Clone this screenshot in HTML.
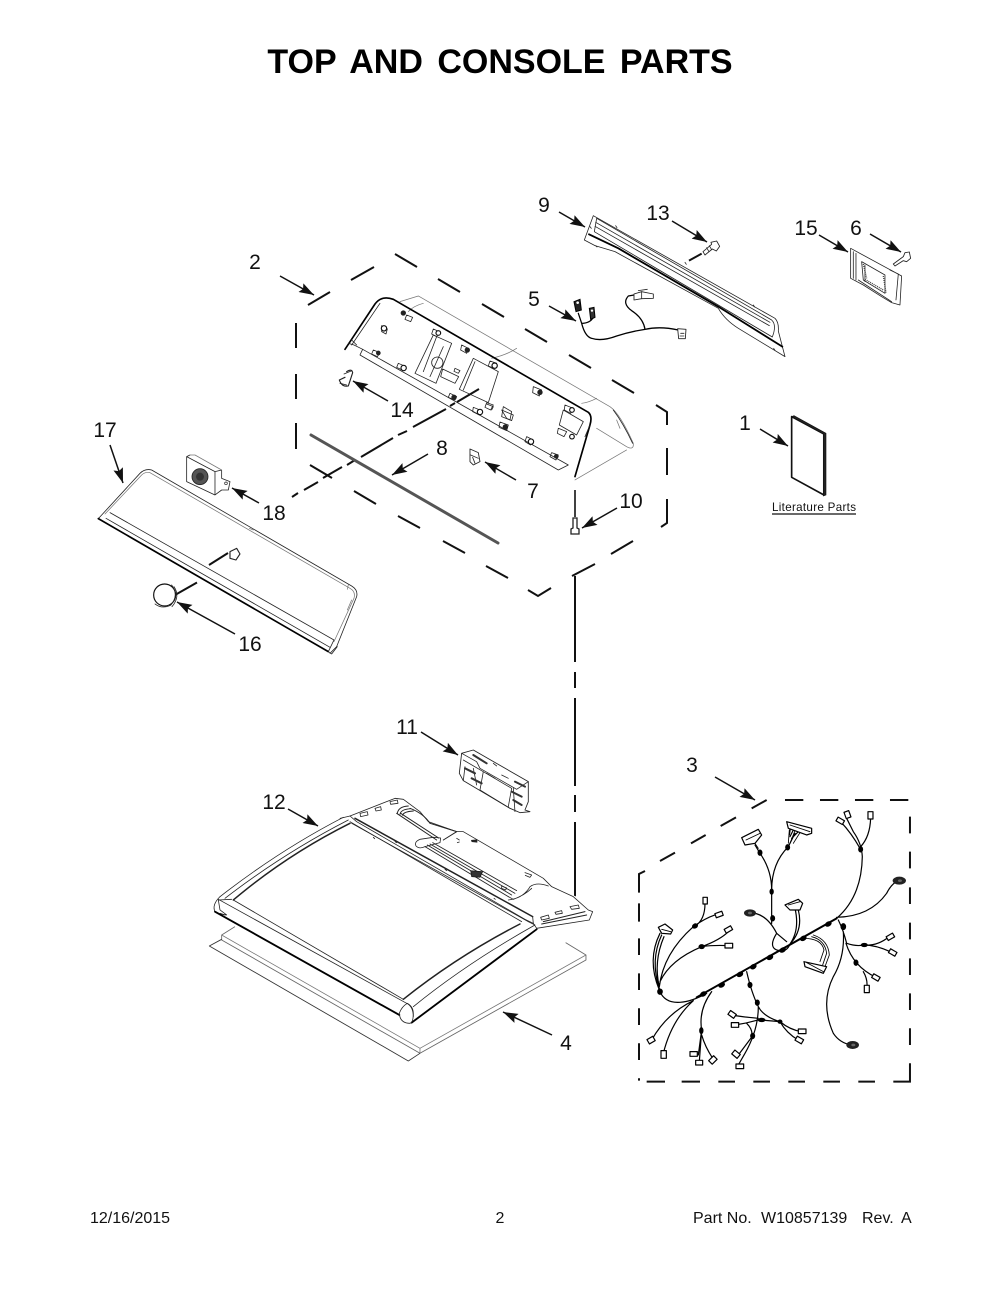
<!DOCTYPE html>
<html><head><meta charset="utf-8"><title>Top and Console Parts</title>
<style>
html,body{margin:0;padding:0;background:#fff}
svg{display:block}
text{font-family:"Liberation Sans",Arial,sans-serif;fill:#111}
.n{font-size:21px;text-anchor:middle}
.f{font-size:16px}
.d{stroke:#111;stroke-width:2;fill:none}
.a{stroke:#111;stroke-width:1.5;fill:none;marker-end:url(#h)}
.t{fill:none;stroke:#222;stroke-width:2.4;stroke-linejoin:round;stroke-linecap:round}
.m{fill:none;stroke:#222;stroke-width:4;stroke-linejoin:round;stroke-linecap:round}
.b{fill:none;stroke:#000;stroke-width:6.5;stroke-linejoin:round;stroke-linecap:round}
.g{fill:none;stroke:#777;stroke-width:2.2;stroke-linejoin:round;stroke-linecap:round}
.w{fill:#fff;stroke:#222;stroke-width:2.6;stroke-linejoin:round}
.h{fill:none;stroke:#000;stroke-width:3.6;stroke-linecap:round;stroke-linejoin:round}
.k{fill:#000;stroke:#000;stroke-width:3}
</style></head><body>
<svg xmlns="http://www.w3.org/2000/svg" width="1000" height="1294" viewBox="0 0 1000 1294">
<defs>
<marker id="h" markerUnits="userSpaceOnUse" markerWidth="16" markerHeight="10" refX="15" refY="5" orient="auto"><path d="M0,0 L15,5 L0,10 L2.5,5 Z" fill="#111"/></marker>
</defs>
<rect width="1000" height="1294" fill="#fff"/>

<text x="500" y="73" text-anchor="middle" style="font-weight:bold;font-size:34px;word-spacing:5px;fill:#000">TOP AND CONSOLE PARTS</text>

<!-- Assembly 2 dashed outline -->
<path class="d" d="M308,305L330,292M351,280L374,267M395,254L417,267M438,279L460,292M482,304L504,317M525,329L547,342M569,355L591,368M612,380L634,393M656,405L667,412L667,425M667,448L667,475M667,499L667,523L661,527M633,541L611,554M595,564L572,576M551,588L538,596L528,590M508,578L486,566M465,553L443,541M420,528L398,516M376,504L354,491M332,478L310,465M296,323L296,348M296,374L296,399M296,423L296,449"/>

<!-- Vertical dash connector -->
<path class="d" d="M575,576L575,662M575,672L575,688M575,698L575,786M575,795L575,812M575,822L575,897"/>
<!-- Dash connector 18 -->
<path class="d" d="M292,497L298,493M304,490L318,482M323,478L342,467M347,465L355,460M361,457L393,438M398,435L407,431M413,427L446,409M450,406L455,403"/>
<path d="M457,402L479,389" stroke="#111" stroke-width="2"/>
<path d="M175,595L197,582.500M209,565L228,553" stroke="#111" stroke-width="2"/>

<!-- Console -->
<g transform="translate(280,180) scale(.3333)">
<path class="g" d="M360,365L415,348L990,680Q1020,700 1060,790Q1062,812 1040,800L950,745M885,900L1040,810M430,370Q400,378 385,395M710,505Q680,525 635,535M950,655Q925,668 905,670M1010,720L1020,745"/>
<path class="t" d="M215,495L300,370M1000,690Q1030,730 1058,790"/>
<path class="b" d="M195,508L285,372Q305,345 340,358L925,697Q938,708 930,735L885,890" style="stroke-width:5"/>
<path class="t" d="M205,490L222,495L248,508L865,855L835,870L240,525L248,508M215,480L230,495M930,735L915,770"/>
<path class="t" d="M460,465L515,490L468,610L405,580ZM470,470L430,575M490,500L450,590"/>
<circle class="t" cx="472" cy="548" r="17"/>
<path class="t" d="M580,535L655,575L625,668L538,628ZM585,545L550,630"/>
<path class="t" d="M488,567L536,590L525,610L482,590ZM525,565L540,572L535,580L522,574Z"/>
<path class="t" d="M850,690L910,725L890,765L838,735ZM670,680L695,695L690,720L665,710Z"/>
<path class="t" d="M380,405L398,412L392,425L375,418ZM305,437L322,447L318,462L305,455ZM460,447L478,455L470,470L455,462ZM545,495L565,505L560,520L542,510ZM630,543L650,550L643,565L625,558ZM760,620L785,630L778,648L758,638ZM855,675L880,685L872,700L853,690ZM835,745L860,755L852,770L832,760ZM620,668L640,675L632,690L615,682ZM510,640L530,650L525,660L505,652ZM580,682L605,692L598,705L578,695ZM660,726L685,735L680,752L657,742ZM740,770L760,780L752,795L735,785ZM815,818L835,825L828,840L810,830ZM280,510L300,518L292,530L275,522ZM355,550L378,560L370,572L350,562Z"/>
<g fill="#222"><circle cx="370" cy="399" r="8"/><circle cx="562" cy="510" r="8"/><circle cx="780" cy="637" r="8"/><circle cx="676" cy="741" r="8"/><circle cx="522" cy="652" r="8"/><circle cx="829" cy="829" r="7"/><circle cx="295" cy="519" r="7"/></g>
<g fill="#fff" stroke="#111" stroke-width="3.5"><circle cx="312" cy="445" r="8"/><circle cx="475" cy="459" r="7"/><circle cx="644" cy="557" r="8"/><circle cx="876" cy="690" r="7"/><circle cx="876" cy="770" r="7"/><circle cx="371" cy="564" r="8"/><circle cx="600" cy="696" r="8"/><circle cx="753" cy="785" r="8"/></g>
<path class="t" d="M665,690L700,705L695,722L680,715ZM620,672L640,680L635,690"/>
<!-- 14 clip -->
<path class="m" d="M200,575Q215,565 218,578L205,618Q185,622 178,600L195,592" style="stroke-width:3.4"/>
<path class="t" d="M192,582L216,572M180,610L200,615"/>
<!-- 7 clip -->
<path class="w" d="M570,807L595,818L600,845L580,855L570,845Z"/><path class="t" d="M572,825L595,835M578,832L585,850"/>
</g>

<!-- Rod 8 -->
<path d="M311,435L498,543" stroke="#555" stroke-width="3" stroke-linecap="round"/>

<!-- Screw 10 -->
<path d="M575,490L575,517" stroke="#111" stroke-width="1.6"/>
<path d="M573,518L577,518L577,528L579,529L579,534L571,534L571,529L573,528Z" fill="#fff" stroke="#222" stroke-width="1.3"/>

<!-- Part 9, 13 -->
<g transform="translate(575,205) scale(.3333)">
<path class="t" d="M55,32L600,340Q612,352 610,378L630,455L490,370Q450,345 430,310L120,140L60,122L28,105Z"/>
<path class="t" d="M65,40L590,345Q606,360 592,396L58,80L65,40ZM62,52L585,352M60,64L583,362M122,62L126,68M330,172L334,178M535,300L539,306M596,430L600,436M62,122L66,126M45,65L49,70"/>
<path class="b" d="M42,88L130,130L430,305L622,425" style="stroke-width:5.500"/>
<path d="M342,167L380,146" stroke="#111" stroke-width="6"/>
<path class="w" d="M384,140L410,118L408,112L425,108L434,124L424,138L412,132L390,150Z"/>
<path class="t" d="M395,128L402,140M403,122L410,134"/>
</g>

<!-- Part 15, 6, 1 -->
<g transform="translate(570,190) scale(.3333)">
<path class="t" d="M842,175L995,258L990,345L965,338L935,320L880,285L842,265ZM850,185L850,265M858,190L858,270M875,215L945,255L945,310L880,270ZM885,225L885,275M960,240L985,252L978,330M865,270L965,335"/>
<path d="M880,222L890,265M885,268L940,300M940,258L948,308" stroke="#444" stroke-width="4" stroke-dasharray="3 3" fill="none"/>
<path class="w" d="M970,222L1000,200L1005,188L1018,186L1022,205L1010,215L1000,212L975,228Z"/>
<path d="M665,680L665,862L762,915L762,732Z" fill="#fff" stroke="#111" stroke-width="5" stroke-linejoin="round"/>
<path d="M672,677L768,730L768,915L760,918L760,732L665,680Z" fill="#222" stroke="#111" stroke-width="2" stroke-linejoin="round"/>
</g>

<!-- Part 5 -->
<g transform="translate(560,280) scale(.3333)">
<path class="h" d="M65,130Q75,170 95,175Q125,185 170,168Q210,155 255,148Q300,138 355,150M255,148Q250,115 215,92Q185,70 205,48L222,45M65,130L55,100M65,130Q90,130 100,112" style="stroke-width:3.8"/>
<path class="w" d="M222,42L245,35L280,42L280,55L245,56L222,60Z"/>
<path class="t" d="M245,35L245,56M235,32L262,28"/>
<path d="M42,65L60,58L64,90L48,95Z" fill="#222" stroke="#000" stroke-width="3"/>
<path d="M88,85L102,82L105,112L92,118Z" fill="#333" stroke="#000" stroke-width="3"/>
<circle cx="53" cy="68" r="4" fill="#fff"/><circle cx="96" cy="92" r="3.500" fill="#fff"/>
<path class="w" d="M353,146L378,148L376,176L356,176Z"/>
<path class="t" d="M362,160L372,160M360,168L372,168"/>
</g>

<text x="772" y="511" style="font-size:11.6px" textLength="84">Literature Parts</text>
<path d="M772,514L856,514" stroke="#111" stroke-width="1.2"/>

<!-- Panel 17, 18, 16 -->
<g transform="translate(80,420) scale(.3333)">
<path class="t" d="M55,296L180,160Q195,145 215,150L815,498Q835,510 830,530L770,680L750,700"/>
<path class="g" d="M75,282L185,165Q195,155 210,158L810,505Q828,515 822,535L762,665M508,325L520,330M805,495L802,508M815,540L802,570"/>
<path class="b" d="M55,296L745,695" style="stroke-width:5"/>
<path class="t" d="M90,278L762,660M78,295L750,682M762,660L745,695L755,702L772,680"/>
<path class="t" d="M320,110L405,155L425,150L425,175L450,185L445,210L425,210L405,225L320,185ZM330,105L320,110M405,155L405,225"/>
<path class="g" d="M425,150L345,105L330,105"/>
<circle cx="360" cy="170" r="24" fill="#555" stroke="#222" stroke-width="2.5"/><circle cx="360" cy="170" r="12" fill="#333"/>
<circle cx="438" cy="190" r="4" fill="none" stroke="#222" stroke-width="2"/>
<path class="t" d="M450,395L470,385L480,402L468,420L450,415Z" style="stroke-width:3.4"/>
<circle cx="254" cy="525" r="33" fill="#fff" stroke="#111" stroke-width="3.5"/>
<path class="t" d="M275,495Q298,525 272,556Q245,568 225,552M282,500Q302,530 276,560"/>
</g>

<!-- Module 11, board 12, gasket 4 -->
<g transform="translate(200,740) scale(.3333)">
<path class="w" d="M785,40L820,30L985,125L985,185L975,210L990,215L960,218L930,205L790,122L778,100Z"/>
<path class="t" d="M785,40L830,65L840,85L950,148L985,125M790,60L850,95L840,150L930,205M850,95L935,145L925,200M790,122L795,80M940,145L945,215M820,85L830,135"/>
<path class="m" d="M795,85L825,100M815,115L845,130M935,155L965,170M940,180L965,195M820,45L860,70M945,125L975,140" style="stroke-width:6;stroke:#333"/>
<path class="t" d="M860,100L885,115M905,105L925,115M880,70L890,78"/>

<path d="M105,560L65,585L65,600L660,940L1158,660L1158,645L1097,608" fill="none" stroke="#666" stroke-width="2.6" stroke-linejoin="round"/>
<path d="M65,585L660,925L1158,645M660,925L660,940" fill="none" stroke="#777" stroke-width="2.4"/>
<path d="M65,598L28,618L625,963L660,940" fill="none" stroke="#333" stroke-width="2.6" stroke-linejoin="round"/>

<path d="M60,470Q240,330 430,232L590,175L620,180L680,215L1040,420L1060,445L1130,470L1170,515L1160,540L1010,568L635,848Q610,855 598,820L45,515Q35,495 60,470Z" fill="#fff" stroke="none"/>
<path class="t" d="M60,470Q240,330 430,232M75,475Q250,340 445,240"/>
<path class="t" d="M60,470Q35,495 45,515L60,522L80,525L60,510L55,480L95,478"/>
<path class="t" d="M55,478L620,790M455,250L985,545"/>
<path class="t" d="M620,790Q640,800 640,830M640,800Q800,670 1005,555L985,545"/>
<path class="m" d="M100,480Q260,345 450,250M610,778Q770,650 960,552" style="stroke-width:4.5"/>
<path class="t" d="M100,480L610,778"/>
<path class="b" d="M45,515L598,825M635,848L1010,568" style="stroke-width:5.5"/>
<path class="t" d="M598,820Q600,850 630,850Q640,848 640,820Q640,800 622,790Q605,800 598,820ZM60,520L75,525"/>
</g>
<!-- Board rear section -->
<g transform="translate(340,780) scale(.3333)">
<path class="t" d="M30,108L165,55L190,58L240,95L265,125L350,155L370,155L610,295L635,320L700,350L745,390L758,395L748,420L590,445L580,430"/>
<path class="m" d="M45,115L578,410" style="stroke-width:4.500"/>
<path class="t" d="M0,115L30,108L50,125L555,418M30,125L545,425M578,410L580,430L555,418M100,172L104,176M165,185L170,188M315,268L320,272M462,355L466,358M555,278L575,285L570,292L556,286"/>
<path class="t" d="M60,100L82,95L84,105L62,110ZM105,85L122,80L124,90L108,93ZM150,65L172,60L174,70L152,73ZM602,412L625,405L628,415L605,420ZM645,397L665,392L667,400L648,403ZM690,380L715,375L718,385L695,388Z"/>
<path class="m" d="M172,100Q175,80 205,78M180,103Q182,88 212,86M188,106Q190,95 220,93" style="stroke-width:2.8"/>
<path class="m" d="M170,100L290,180M182,100L296,174M210,85Q250,100 270,130L350,155L310,180" style="stroke-width:3"/>
<path class="t" d="M240,178Q222,185 228,198Q238,208 255,200L300,188L302,174L280,172Z"/>
<path class="t" d="M255,200L505,350M262,195L515,345M270,192L525,340M278,188L530,332" style="stroke-width:2.6"/>
<path class="t" d="M505,360Q550,355 570,320Q590,305 625,318M520,358Q555,345 575,325M505,350L520,358"/>
<path d="M392,272L428,275L420,292L395,290Z" fill="#333" stroke="#111" stroke-width="2"/>
<path d="M393,180L412,178L412,188L395,186Z" fill="#222"/>
<path class="t" d="M350,175L358,180M352,188L358,186M485,318L500,324L497,330L485,325Z"/>
<path class="m" d="M610,425L735,395M605,432L740,405" style="stroke-width:3"/>
</g>

<!-- Harness 3 -->
<g transform="translate(630,790) scale(.3333)">
<path class="d" style="stroke-width:6" d="M90,213L135,188M183,160L227,135M272,108L318,82M365,55L410,30M465,30L520,30M570,30L625,30M675,30L730,30M780,30L835,30M840,80L840,130M840,185L840,235M840,292L840,342M840,398L840,448M840,505L840,555M840,610L840,660M840,715L840,765M840,820L840,875L790,875M735,875L685,875M630,875L580,875M525,875L475,875M420,875L370,875M315,875L265,875M210,875L155,875M105,875L50,875M27,865L27,872M27,760L27,810M27,655L27,705M27,550L27,600M27,445L27,495M27,340L27,395M45,243L27,252L27,308"/>
<path class="h" style="stroke-width:6" d="M200,622L620,385"/>
<path class="h" d="M90,605Q105,640 150,637Q185,635 230,610M620,385Q695,320 697,200Q695,160 670,125L650,85M690,175Q665,130 632,95M692,170Q720,140 722,85M620,382Q720,380 770,310Q785,280 805,272"/>
<path class="h" d="M88,600Q50,510 90,430M88,595Q60,510 95,435M88,590Q70,515 102,440M88,590Q100,490 190,410Q225,385 255,375M195,408Q225,390 225,340M90,575Q120,510 215,470Q270,450 295,425M215,470Q250,465 295,467"/>
<path class="h" d="M425,400Q425,360 425,300Q425,240 390,190L375,165M425,300Q425,220 475,170L495,130M480,140L490,120M485,145L505,125M478,135L482,110M360,368Q410,370 440,430Q415,470 440,480Q470,490 480,462Q520,420 505,360M480,462Q510,420 495,355M470,455L440,430"/>
<path class="h" d="M520,445Q575,445 582,480L570,515M545,440Q585,450 590,490L578,525M550,435Q595,450 598,495L585,530" style="stroke-width:2.6"/>
<path class="h" d="M625,390Q640,420 650,460Q680,470 700,465Q740,470 778,440M700,465Q740,465 787,488M648,460Q670,530 738,562M700,545Q715,570 710,597M640,425Q645,500 610,560Q570,640 610,730Q630,760 665,765"/>
<path class="h" d="M350,545Q365,610 385,650Q400,680 450,695Q480,720 515,725M450,695Q470,730 505,750M385,650Q385,720 345,790L325,825M370,735L325,795M385,685Q330,680 305,675M385,690Q350,700 315,705M390,690L450,695M350,700Q370,720 365,740"/>
<path class="h" d="M190,632Q110,670 65,750M190,632Q125,690 100,790M245,605Q205,660 215,720L205,795M215,720L208,815M215,735Q225,770 248,805"/>
<g class="k"><ellipse cx="90" cy="605" rx="7" ry="8"/><ellipse cx="195" cy="408" rx="8" ry="6" transform="rotate(-30 195 408)"/><ellipse cx="215" cy="470" rx="8" ry="6"/><ellipse cx="220" cy="612" rx="9" ry="6" transform="rotate(-30 220 612)"/><ellipse cx="275" cy="585" rx="9" ry="6" transform="rotate(-30 275 585)"/><ellipse cx="330" cy="553" rx="9" ry="6" transform="rotate(-30 330 553)"/><ellipse cx="370" cy="530" rx="9" ry="6" transform="rotate(-30 370 530)"/><ellipse cx="420" cy="502" rx="9" ry="6" transform="rotate(-30 420 502)"/><ellipse cx="458" cy="480" rx="9" ry="6" transform="rotate(-30 458 480)"/><ellipse cx="520" cy="445" rx="9" ry="6" transform="rotate(-30 520 445)"/><ellipse cx="595" cy="402" rx="9" ry="6" transform="rotate(-30 595 402)"/><ellipse cx="640" cy="410" rx="7" ry="9"/><ellipse cx="692" cy="178" rx="6" ry="8"/><ellipse cx="703" cy="465" rx="9" ry="5"/><ellipse cx="678" cy="518" rx="6" ry="8"/><ellipse cx="390" cy="188" rx="6" ry="8"/><ellipse cx="473" cy="172" rx="6" ry="8"/><ellipse cx="425" cy="305" rx="5" ry="8"/><ellipse cx="428" cy="385" rx="6" ry="8"/><ellipse cx="360" cy="585" rx="6" ry="8"/><ellipse cx="382" cy="638" rx="6" ry="8"/><ellipse cx="368" cy="738" rx="6" ry="8"/><ellipse cx="214" cy="722" rx="5" ry="9"/><ellipse cx="395" cy="690" rx="10" ry="5"/><ellipse cx="450" cy="695" rx="6" ry="5"/></g>
<g fill="#222"><ellipse cx="808" cy="272" rx="20" ry="12"/><ellipse cx="668" cy="765" rx="19" ry="12"/><ellipse cx="360" cy="369" rx="18" ry="11"/></g>
<g fill="#666"><ellipse cx="810" cy="272" rx="6" ry="4"/><ellipse cx="670" cy="765" rx="6" ry="4"/><ellipse cx="360" cy="369" rx="6" ry="4"/></g>
<g fill="#fff" stroke="#000" stroke-width="3.6" stroke-linejoin="round">
<rect x="219" y="322" width="13" height="20"/><rect x="256" y="367" width="22" height="13" transform="rotate(-20 267 373)"/><rect x="284" y="412" width="22" height="13" transform="rotate(-30 295 418)"/><rect x="285" y="460" width="23" height="14"/><rect x="53" y="743" width="20" height="15" transform="rotate(-30 63 750)"/><rect x="93" y="782" width="16" height="23"/><rect x="180" y="785" width="22" height="14"/><rect x="197" y="811" width="21" height="14"/><rect x="238" y="803" width="21" height="15" transform="rotate(-45 248 810)"/><rect x="308" y="785" width="21" height="15" transform="rotate(40 318 792)"/><rect x="318" y="822" width="23" height="14"/><rect x="296" y="666" width="21" height="14" transform="rotate(35 306 673)"/><rect x="304" y="698" width="22" height="14"/><rect x="505" y="717" width="23" height="14"/><rect x="497" y="743" width="22" height="14" transform="rotate(30 508 750)"/><rect x="703" y="586" width="15" height="22"/><rect x="727" y="556" width="22" height="13" transform="rotate(30 738 562)"/><rect x="777" y="481" width="22" height="13" transform="rotate(30 788 488)"/><rect x="770" y="434" width="22" height="13" transform="rotate(-30 781 440)"/><rect x="645" y="64" width="15" height="20" transform="rotate(-20 652 74)"/><rect x="714" y="65" width="15" height="22"/><rect x="620" y="86" width="22" height="13" transform="rotate(30 631 92)"/>
<path d="M85,412L105,402L128,420L122,432L95,430Z"/>
<path d="M335,143L385,118L395,135L375,160L345,165Z"/>
<path d="M470,95L545,115L545,130L530,135L475,115Z"/>
<path d="M465,345L505,328L518,340L510,360L480,360Z"/>
<path d="M522,515L590,530L580,550L525,530Z"/>
</g>
<path class="h" d="M348,150L390,130M480,105L540,125M475,345L510,335M95,418L122,425M530,518L580,545M375,160L385,175M478,120L475,160M495,122L480,160M510,128L490,160" style="stroke-width:2.6"/>
</g>

<!-- Arrows -->
<line class="a" x1="559" y1="212" x2="585" y2="227"/>
<line class="a" x1="672" y1="221" x2="707" y2="242"/>
<line class="a" x1="819" y1="235" x2="848" y2="252"/>
<line class="a" x1="870" y1="234" x2="901" y2="252"/>
<line class="a" x1="280" y1="276" x2="314" y2="295"/>
<line class="a" x1="549" y1="306" x2="576" y2="321"/>
<line class="a" x1="760" y1="429" x2="788" y2="446"/>
<line class="a" x1="388" y1="401" x2="353" y2="381"/>
<line class="a" x1="428" y1="454" x2="392" y2="475"/>
<line class="a" x1="516" y1="480" x2="485" y2="462"/>
<line class="a" x1="617" y1="508" x2="582" y2="528"/>
<line class="a" x1="110" y1="445" x2="123" y2="483"/>
<line class="a" x1="259" y1="503" x2="232" y2="488"/>
<line class="a" x1="235" y1="634" x2="177" y2="602"/>
<line class="a" x1="421" y1="732" x2="458" y2="755"/>
<line class="a" x1="288" y1="809" x2="318" y2="826"/>
<line class="a" x1="715" y1="777" x2="755" y2="800"/>
<line class="a" x1="552" y1="1035" x2="503" y2="1012"/>

<!-- Numbers -->
<text class="n" x="544" y="212">9</text>
<text class="n" x="658" y="220">13</text>
<text class="n" x="806" y="235">15</text>
<text class="n" x="856" y="235">6</text>
<text class="n" x="255" y="269">2</text>
<text class="n" x="534" y="306">5</text>
<text class="n" x="745" y="430">1</text>
<text class="n" x="402" y="417">14</text>
<text class="n" x="442" y="455">8</text>
<text class="n" x="533" y="498">7</text>
<text class="n" x="631" y="508">10</text>
<text class="n" x="105" y="437">17</text>
<text class="n" x="274" y="520">18</text>
<text class="n" x="250" y="651">16</text>
<text class="n" x="407" y="734">11</text>
<text class="n" x="274" y="809">12</text>
<text class="n" x="692" y="772">3</text>
<text class="n" x="566" y="1050">4</text>

<!-- Footer -->
<text class="f" x="90" y="1223">12/16/2015</text>
<text class="f" x="500" y="1223" text-anchor="middle">2</text>
<text class="f" y="1223"><tspan x="693">Part No.</tspan><tspan x="761">W10857139</tspan><tspan x="862">Rev.</tspan><tspan x="901">A</tspan></text>
</svg>
</body></html>
